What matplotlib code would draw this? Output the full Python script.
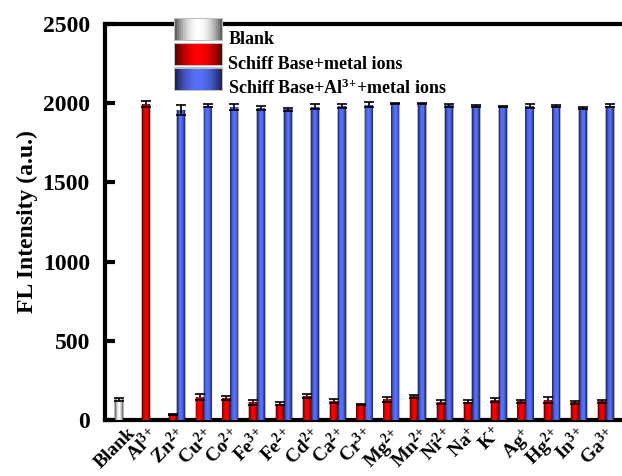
import numpy as np
import matplotlib
matplotlib.use("Agg")
import matplotlib.pyplot as plt
import matplotlib.transforms as mtransforms
from matplotlib.patches import Rectangle
from matplotlib.legend_handler import HandlerBase

plt.rcParams['font.family'] = 'Liberation Serif'
plt.rcParams['font.weight'] = 'bold'
plt.rcParams['mathtext.fontset'] = 'custom'
plt.rcParams['mathtext.rm'] = 'Liberation Serif'
plt.rcParams['mathtext.it'] = 'Liberation Serif:italic'
plt.rcParams['mathtext.bf'] = 'Liberation Serif:bold'

# ions tested (first entry is the blank); charge split so "+" is not spaced as an operator
ions = ['Blank', 'Al$^{3}$$^{+}$', 'Zn$^{2}$$^{+}$', 'Cu$^{2}$$^{+}$', 'Co$^{2}$$^{+}$',
        'Fe$^{3}$$^{+}$', 'Fe$^{2}$$^{+}$', 'Cd$^{2}$$^{+}$', 'Ca$^{2}$$^{+}$',
        'Cr$^{3}$$^{+}$', 'Mg$^{2}$$^{+}$', 'Mn$^{2}$$^{+}$', 'Ni$^{2}$$^{+}$',
        'Na$^{+}$', 'K$^{+}$', 'Ag$^{+}$', 'Hg$^{2}$$^{+}$', 'In$^{3}$$^{+}$', 'Ga$^{3}$$^{+}$']

blank_val = 130
blank_err = 8

# Schiff base + metal ion (Al3+ onwards)
metal_vals = [1995, 36, 145, 137, 112, 103, 150, 122, 97, 130, 151, 116, 116, 124, 118, 126, 112, 118]
metal_errs = [20, 5, 19, 12, 15, 10, 12, 12, 5, 18, 10, 12, 10, 12, 10, 18, 10, 10]

# Schiff base + Al3+ + metal ion (Zn2+ onwards)
mix_vals = [1957, 1984, 1978, 1970, 1961, 1978, 1984, 1990, 1997, 1997, 1987, 1982, 1978, 1984, 1982, 1972, 1985]
mix_errs = [32, 8, 20, 10, 8, 15, 12, 15, 5, 5, 8, 8, 5, 12, 8, 7, 10]

width = 0.3
nstrip = 9


def shade(dark, bright, t):
    k = np.sin(np.pi * t) ** 0.8
    return tuple(np.array(dark) * (1 - k) + np.array(bright) * k)


grey_cols = ((0.3, 0.3, 0.3), (1.0, 1.0, 1.0))
red_cols = ((0.3, 0.0, 0.0), (1.0, 0.0, 0.0))
blue_cols = ((0.08, 0.1, 0.3), (0.34, 0.44, 0.98))


def cyl_bar(ax, x, h, cols):
    # cylinder-shaded bar built from thin vertical strips
    x = np.asarray(x, dtype=float)
    h = np.asarray(h, dtype=float)
    ax.bar(x, h, width + 0.06, color='0.72', lw=0, zorder=2)
    sw = width / nstrip
    for i in range(nstrip):
        t = (i + 0.5) / nstrip
        ax.bar(x - width / 2 + (i + 0.5) * sw, h, sw * 1.02,
               color=shade(cols[0], cols[1], t), lw=0, zorder=3)


class CylHandler(HandlerBase):
    def __init__(self, cols):
        super().__init__()
        self.cols = cols

    def create_artists(self, legend, orig_handle, xd, yd, w, h, fontsize, trans):
        arts = [Rectangle((xd - 1, yd - 1), w + 2, h + 2, fc='0.75', lw=0, transform=trans)]
        n = 24
        for i in range(n):
            t = (i + 0.5) / n
            arts.append(Rectangle((xd + i * w / n, yd), w / n * 1.05, h,
                                  fc=shade(self.cols[0], self.cols[1], t), lw=0,
                                  transform=trans))
        return arts


fig = plt.figure(figsize=(6.22, 4.76), dpi=100)
ax = fig.add_axes([0.169, 0.1176, 0.832, 0.832])

pos = np.arange(len(ions))
metal_x = pos[1:]
mix_x = pos[2:] + width

cyl_bar(ax, [pos[0]], [blank_val], grey_cols)
cyl_bar(ax, metal_x, metal_vals, red_cols)
cyl_bar(ax, mix_x, mix_vals, blue_cols)

ax.errorbar([pos[0]], [blank_val], yerr=[blank_err], fmt='none', ecolor='black',
            elinewidth=1.2, capsize=3.5, capthick=1.2, zorder=4)
ax.errorbar(metal_x, metal_vals, yerr=metal_errs, fmt='none', ecolor='black',
            elinewidth=1.2, capsize=3.5, capthick=1.2, zorder=4)
ax.errorbar(mix_x, mix_vals, yerr=mix_errs, fmt='none', ecolor='black',
            elinewidth=1.2, capsize=3.5, capthick=1.2, zorder=4)

ax.set_xlim(-0.52, 18.77)
ax.set_ylim(0, 2500)
ax.set_yticks([0, 500, 1000, 1500, 2000, 2500])
ax.set_xticks(pos)
ax.set_xticklabels(ions, rotation=45, fontsize=14, fontweight='bold')
ax.tick_params(axis='y', direction='in', length=7, width=3, labelsize=17, pad=11)
ax.tick_params(axis='x', length=0, pad=3)
for lab in ax.get_yticklabels():
    lab.set_fontweight('bold')

# nudge the rotated ion labels a little to the left
shift = mtransforms.ScaledTranslation(-4 / 100, 0, fig.dpi_scale_trans)
for lab in ax.get_xticklabels():
    lab.set_transform(lab.get_transform() + shift)

for s in ['left', 'bottom', 'top']:
    ax.spines[s].set_linewidth(3)
ax.spines['right'].set_visible(False)

ax.set_ylabel('FL Intensity (a.u.)', fontsize=17, fontweight='bold', labelpad=3)

handles = [Rectangle((0, 0), 1, 1), Rectangle((0, 0), 1, 1), Rectangle((0, 0), 1, 1)]
labels = ['Blank', 'Schiff Base+metal ions', 'Schiff Base+Al$^{3}$$^{+}$+metal ions']
ax.legend(handles, labels,
          handler_map={handles[0]: CylHandler(grey_cols),
                       handles[1]: CylHandler(red_cols),
                       handles[2]: CylHandler(blue_cols)},
          loc='upper left', bbox_to_anchor=(175 / 622, 1 - 28 / 476),
          bbox_transform=fig.transFigure, frameon=False,
          prop={'size': 13, 'weight': 'bold'}, handlelength=2.6,
          handleheight=1.4, labelspacing=0.22, handletextpad=0.35,
          borderpad=0, borderaxespad=0)

fig.savefig('out.png', dpi=100)
